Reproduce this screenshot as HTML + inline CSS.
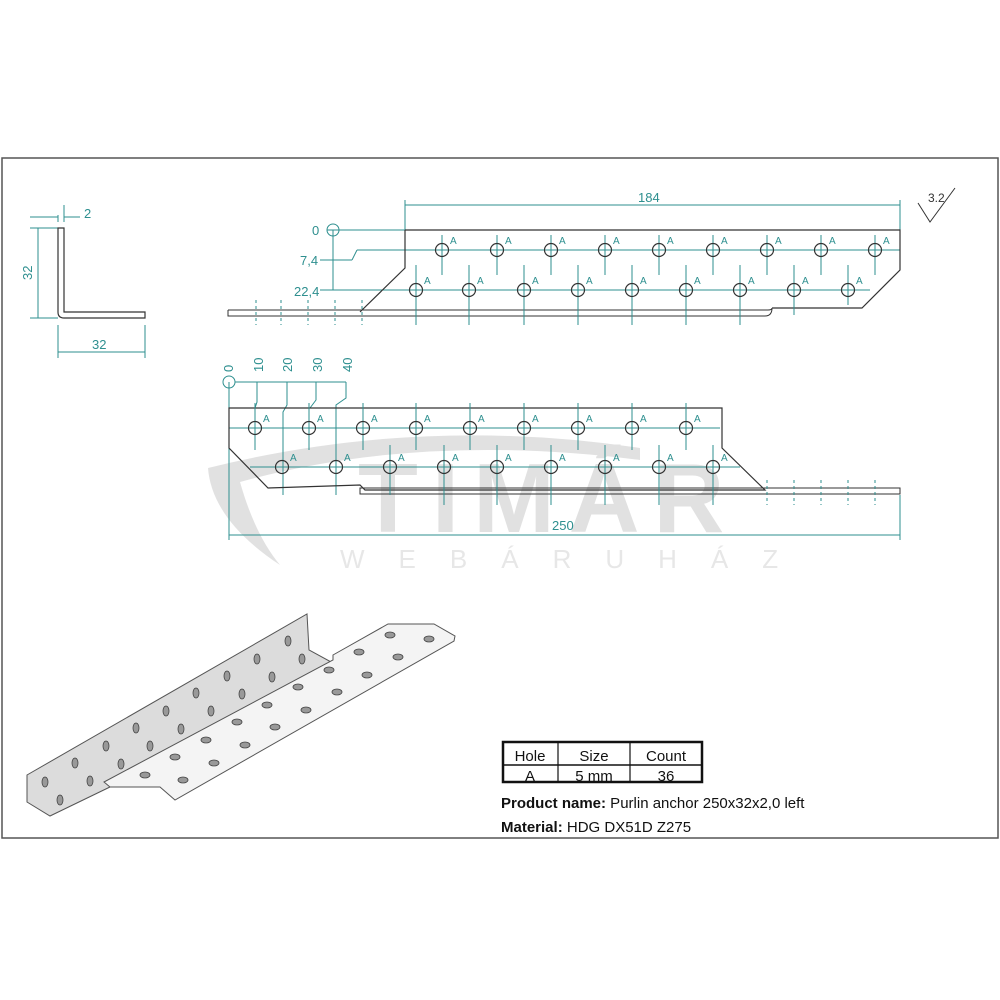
<!DOCTYPE html>
<html><head><meta charset="utf-8"><style>
html,body{margin:0;padding:0;background:#fff}
svg{display:block}
text{font-family:"Liberation Sans",sans-serif}
</style></head><body>
<svg width="1000" height="1000" viewBox="0 0 1000 1000" xmlns="http://www.w3.org/2000/svg">
<rect x="2" y="158" width="996" height="680" fill="none" stroke="#555" stroke-width="1.5"/>

<!-- watermark -->
<g opacity="0.5">
<path d="M208 468 Q420 415 640 448 L640 460 Q420 432 240 482 Q255 535 280 565 Q212 520 208 468Z" fill="#c4c4c4"/>
<text x="358" y="532" font-size="98" font-weight="bold" fill="#c4c4c4" letter-spacing="14">TIMÁR</text>
<text x="340" y="568" font-size="26" fill="#d0d0d0" letter-spacing="34">WEBÁRUHÁZ</text>
</g>

<!-- angle section -->
<g stroke="#2e8f8f" stroke-width="1" fill="none">
<line x1="58" y1="222" x2="58" y2="215"/><line x1="64" y1="222" x2="64" y2="205"/>
<line x1="30" y1="217" x2="58" y2="217"/><line x1="64" y1="217" x2="80" y2="217"/>
<line x1="30" y1="228" x2="58" y2="228"/><line x1="38" y1="228" x2="38" y2="318"/>
<line x1="30" y1="318" x2="58" y2="318"/>
<line x1="58" y1="325" x2="58" y2="358"/><line x1="145" y1="325" x2="145" y2="358"/>
<line x1="58" y1="352" x2="145" y2="352"/>
</g>
<text x="84" y="218" font-size="13" fill="#2e8f8f">2</text>
<text x="32" y="280" font-size="13" fill="#2e8f8f" transform="rotate(-90 32 280)">32</text>
<text x="92" y="349" font-size="13" fill="#2e8f8f">32</text>
<path d="M58 228 L64 228 L64 312 L145 312 L145 318 L64 318 Q58 318 58 312Z" fill="none" stroke="#333" stroke-width="1.2"/>

<!-- top drawing -->
<g stroke="#2e8f8f" stroke-width="1" fill="none">
<line x1="405" y1="200" x2="405" y2="230"/><line x1="900" y1="200" x2="900" y2="230"/>
<line x1="405" y1="205" x2="900" y2="205"/>
<circle cx="333" cy="230" r="6"/><line x1="327" y1="230" x2="900" y2="230"/>
<line x1="333" y1="230" x2="333" y2="290"/>
<line x1="320" y1="260" x2="352" y2="260"/><line x1="352" y1="260" x2="357" y2="250"/><line x1="357" y1="250" x2="900" y2="250"/>
<line x1="320" y1="290" x2="870" y2="290"/>
</g>
<text x="638" y="202" font-size="13" fill="#2e8f8f">184</text>
<text x="312" y="235" font-size="13" fill="#2e8f8f">0</text>
<text x="300" y="265" font-size="13" fill="#2e8f8f">7,4</text>
<text x="294" y="296" font-size="13" fill="#2e8f8f">22,4</text>
<path d="M405 230 L900 230 L900 270 L862 308 L772 308 M405 230 L405 268 L360 312" fill="none" stroke="#333" stroke-width="1.2"/>
<path d="M228 310 L768 310 Q772 310 772 308 M228 310 L228 316 L765 316 Q772 316 772 308" fill="none" stroke="#333" stroke-width="1"/>
<g stroke="#2e8f8f" stroke-width="1">
<line x1="442" y1="235" x2="442" y2="275"/><line x1="497" y1="235" x2="497" y2="275"/><line x1="551" y1="235" x2="551" y2="275"/><line x1="605" y1="235" x2="605" y2="275"/><line x1="659" y1="235" x2="659" y2="275"/><line x1="713" y1="235" x2="713" y2="275"/><line x1="767" y1="235" x2="767" y2="275"/><line x1="821" y1="235" x2="821" y2="275"/><line x1="875" y1="235" x2="875" y2="275"/>
<line x1="416" y1="265" x2="416" y2="325"/><line x1="469" y1="265" x2="469" y2="325"/><line x1="524" y1="265" x2="524" y2="325"/><line x1="578" y1="265" x2="578" y2="325"/><line x1="632" y1="265" x2="632" y2="325"/><line x1="686" y1="265" x2="686" y2="325"/><line x1="740" y1="265" x2="740" y2="325"/><line x1="794" y1="265" x2="794" y2="315"/><line x1="848" y1="265" x2="848" y2="305"/>
<line x1="256" y1="300" x2="256" y2="325" stroke-dasharray="3 3"/><line x1="281" y1="300" x2="281" y2="325" stroke-dasharray="3 3"/><line x1="308" y1="300" x2="308" y2="325" stroke-dasharray="3 3"/><line x1="335" y1="300" x2="335" y2="325" stroke-dasharray="3 3"/><line x1="362" y1="300" x2="362" y2="325" stroke-dasharray="3 3"/>
</g>
<g fill="none" stroke="#333" stroke-width="1.2">
<circle cx="442" cy="250" r="6.5"/><circle cx="497" cy="250" r="6.5"/><circle cx="551" cy="250" r="6.5"/><circle cx="605" cy="250" r="6.5"/><circle cx="659" cy="250" r="6.5"/><circle cx="713" cy="250" r="6.5"/><circle cx="767" cy="250" r="6.5"/><circle cx="821" cy="250" r="6.5"/><circle cx="875" cy="250" r="6.5"/>
<circle cx="416" cy="290" r="6.5"/><circle cx="469" cy="290" r="6.5"/><circle cx="524" cy="290" r="6.5"/><circle cx="578" cy="290" r="6.5"/><circle cx="632" cy="290" r="6.5"/><circle cx="686" cy="290" r="6.5"/><circle cx="740" cy="290" r="6.5"/><circle cx="794" cy="290" r="6.5"/><circle cx="848" cy="290" r="6.5"/>
</g>
<g font-size="10" fill="#2e8f8f">
<text x="450" y="244">A</text><text x="505" y="244">A</text><text x="559" y="244">A</text><text x="613" y="244">A</text><text x="667" y="244">A</text><text x="721" y="244">A</text><text x="775" y="244">A</text><text x="829" y="244">A</text><text x="883" y="244">A</text>
<text x="424" y="284">A</text><text x="477" y="284">A</text><text x="532" y="284">A</text><text x="586" y="284">A</text><text x="640" y="284">A</text><text x="694" y="284">A</text><text x="748" y="284">A</text><text x="802" y="284">A</text><text x="856" y="284">A</text>
</g>
<text x="928" y="202" font-size="12" fill="#333">3.2</text>
<path d="M918 203 L930 222 L955 188" fill="none" stroke="#333"/>

<!-- middle drawing -->
<g stroke="#2e8f8f" stroke-width="1" fill="none">
<circle cx="229" cy="382" r="6"/><line x1="229" y1="382" x2="229" y2="540"/>
<line x1="235" y1="382" x2="346" y2="382"/>
<path d="M257 382 V402 L255 408"/><path d="M287 382 V405 L283 412 V495"/><path d="M316 382 V400 L310 408"/><path d="M346 382 V398 L336 405 V495"/>
<line x1="229" y1="428" x2="720" y2="428"/><line x1="250" y1="467" x2="740" y2="467"/>
<line x1="229" y1="535" x2="900" y2="535"/><line x1="900" y1="495" x2="900" y2="540"/>
</g>
<g font-size="13" fill="#2e8f8f">
<text x="233" y="372" transform="rotate(-90 233 372)">0</text><text x="263" y="372" transform="rotate(-90 263 372)">10</text><text x="292" y="372" transform="rotate(-90 292 372)">20</text><text x="322" y="372" transform="rotate(-90 322 372)">30</text><text x="352" y="372" transform="rotate(-90 352 372)">40</text>
<text x="552" y="530">250</text>
</g>
<path d="M229 408 L722 408 L722 448 L765 490 L365 490 L360 485 L268 488 L229 448Z" fill="none" stroke="#333" stroke-width="1.2"/>
<rect x="360" y="488" width="540" height="6" fill="none" stroke="#333" stroke-width="1"/>
<g stroke="#2e8f8f" stroke-width="1">
<line x1="255" y1="403" x2="255" y2="450"/><line x1="309" y1="403" x2="309" y2="450"/><line x1="363" y1="403" x2="363" y2="450"/><line x1="416" y1="403" x2="416" y2="450"/><line x1="470" y1="403" x2="470" y2="450"/><line x1="524" y1="403" x2="524" y2="450"/><line x1="578" y1="403" x2="578" y2="450"/><line x1="632" y1="403" x2="632" y2="450"/><line x1="686" y1="403" x2="686" y2="450"/>
<line x1="390" y1="445" x2="390" y2="495"/><line x1="444" y1="445" x2="444" y2="505"/><line x1="497" y1="445" x2="497" y2="505"/><line x1="551" y1="445" x2="551" y2="505"/><line x1="605" y1="445" x2="605" y2="505"/><line x1="659" y1="445" x2="659" y2="505"/><line x1="713" y1="445" x2="713" y2="505"/>
<line x1="767" y1="480" x2="767" y2="505" stroke-dasharray="3 3"/><line x1="794" y1="480" x2="794" y2="505" stroke-dasharray="3 3"/><line x1="821" y1="480" x2="821" y2="505" stroke-dasharray="3 3"/><line x1="848" y1="480" x2="848" y2="505" stroke-dasharray="3 3"/><line x1="875" y1="480" x2="875" y2="505" stroke-dasharray="3 3"/>
</g>
<g fill="none" stroke="#333" stroke-width="1.2">
<circle cx="255" cy="428" r="6.5"/><circle cx="309" cy="428" r="6.5"/><circle cx="363" cy="428" r="6.5"/><circle cx="416" cy="428" r="6.5"/><circle cx="470" cy="428" r="6.5"/><circle cx="524" cy="428" r="6.5"/><circle cx="578" cy="428" r="6.5"/><circle cx="632" cy="428" r="6.5"/><circle cx="686" cy="428" r="6.5"/>
<circle cx="282" cy="467" r="6.5"/><circle cx="336" cy="467" r="6.5"/><circle cx="390" cy="467" r="6.5"/><circle cx="444" cy="467" r="6.5"/><circle cx="497" cy="467" r="6.5"/><circle cx="551" cy="467" r="6.5"/><circle cx="605" cy="467" r="6.5"/><circle cx="659" cy="467" r="6.5"/><circle cx="713" cy="467" r="6.5"/>
</g>
<g font-size="10" fill="#2e8f8f">
<text x="263" y="422">A</text><text x="317" y="422">A</text><text x="371" y="422">A</text><text x="424" y="422">A</text><text x="478" y="422">A</text><text x="532" y="422">A</text><text x="586" y="422">A</text><text x="640" y="422">A</text><text x="694" y="422">A</text>
<text x="290" y="461">A</text><text x="344" y="461">A</text><text x="398" y="461">A</text><text x="452" y="461">A</text><text x="505" y="461">A</text><text x="559" y="461">A</text><text x="613" y="461">A</text><text x="667" y="461">A</text><text x="721" y="461">A</text>
</g>

<!-- isometric -->
<path d="M27 775 L307 614 L309 650 L333 663 L112 786 L50 816 L27 802Z" fill="#dcdcdc" stroke="#555" stroke-width="1"/>
<path d="M333 655 L388 624 L434 624 L455 636 L454 641 L175 800 L160 787 L110 787 L104 782 L333 660Z" fill="#f4f4f4" stroke="#555" stroke-width="1"/>
<g fill="#999" stroke="#444" stroke-width="0.8">
<ellipse cx="45" cy="782" rx="3" ry="5"/><ellipse cx="60" cy="800" rx="3" ry="5"/><ellipse cx="75" cy="763" rx="3" ry="5"/><ellipse cx="90" cy="781" rx="3" ry="5"/><ellipse cx="106" cy="746" rx="3" ry="5"/><ellipse cx="121" cy="764" rx="3" ry="5"/><ellipse cx="136" cy="728" rx="3" ry="5"/><ellipse cx="150" cy="746" rx="3" ry="5"/><ellipse cx="166" cy="711" rx="3" ry="5"/><ellipse cx="181" cy="729" rx="3" ry="5"/><ellipse cx="196" cy="693" rx="3" ry="5"/><ellipse cx="211" cy="711" rx="3" ry="5"/><ellipse cx="227" cy="676" rx="3" ry="5"/><ellipse cx="242" cy="694" rx="3" ry="5"/><ellipse cx="257" cy="659" rx="3" ry="5"/><ellipse cx="272" cy="677" rx="3" ry="5"/><ellipse cx="288" cy="641" rx="3" ry="5"/><ellipse cx="302" cy="659" rx="3" ry="5"/>
<ellipse cx="145" cy="775" rx="5" ry="3"/><ellipse cx="175" cy="757" rx="5" ry="3"/><ellipse cx="206" cy="740" rx="5" ry="3"/><ellipse cx="237" cy="722" rx="5" ry="3"/><ellipse cx="267" cy="705" rx="5" ry="3"/><ellipse cx="298" cy="687" rx="5" ry="3"/><ellipse cx="329" cy="670" rx="5" ry="3"/><ellipse cx="359" cy="652" rx="5" ry="3"/><ellipse cx="390" cy="635" rx="5" ry="3"/>
<ellipse cx="183" cy="780" rx="5" ry="3"/><ellipse cx="214" cy="763" rx="5" ry="3"/><ellipse cx="245" cy="745" rx="5" ry="3"/><ellipse cx="275" cy="727" rx="5" ry="3"/><ellipse cx="306" cy="710" rx="5" ry="3"/><ellipse cx="337" cy="692" rx="5" ry="3"/><ellipse cx="367" cy="675" rx="5" ry="3"/><ellipse cx="398" cy="657" rx="5" ry="3"/><ellipse cx="429" cy="639" rx="5" ry="3"/>
</g>

<!-- table -->
<g stroke="#111" fill="none">
<rect x="503" y="742" width="199" height="40" stroke-width="2.5"/>
<line x1="503" y1="765" x2="702" y2="765" stroke-width="1.5"/>
<line x1="558" y1="742" x2="558" y2="782" stroke-width="1.2"/>
<line x1="630" y1="742" x2="630" y2="782" stroke-width="1.2"/>
</g>
<g font-size="15" fill="#111" text-anchor="middle">
<text x="530" y="761">Hole</text><text x="594" y="761">Size</text><text x="666" y="761">Count</text>
<text x="530" y="781">A</text><text x="594" y="781">5 mm</text><text x="666" y="781">36</text>
</g>
<text x="501" y="808" font-size="15" fill="#111"><tspan font-weight="bold">Product name:</tspan> Purlin anchor 250x32x2,0 left</text>
<text x="501" y="832" font-size="15" fill="#111"><tspan font-weight="bold">Material:</tspan> HDG DX51D Z275</text>
</svg>
</body></html>
